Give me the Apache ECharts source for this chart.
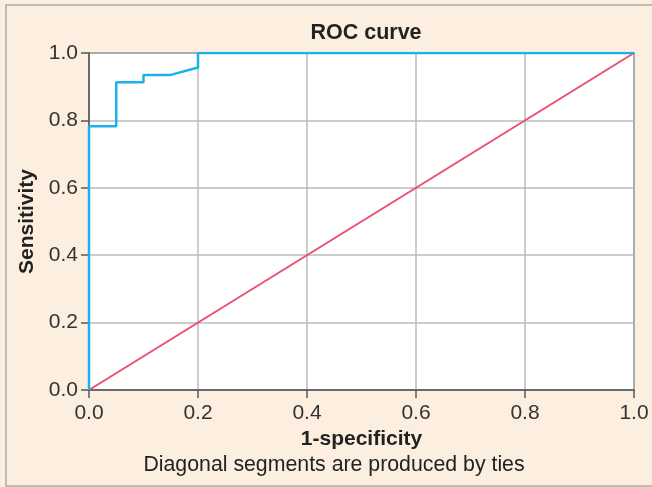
<!DOCTYPE html>
<html><head><meta charset="utf-8">
<script src="https://cdn.jsdelivr.net/npm/echarts@6/dist/echarts.min.js"></script>
<style>html,body{margin:0;padding:0;background:#fdefe0;}#c{width:652px;height:487px;}</style>
</head><body><div id="c"></div>
<script>
var rocX = [0, 0, 0.05, 0.05, 0.1, 0.1, 0.15, 0.2, 0.2, 1.0];
var rocY = [0, 0.783, 0.783, 0.913, 0.913, 0.935, 0.935, 0.957, 1.0, 1.0];
var refX = [0, 1];
var refY = [0, 1];
var ticks = [0, 0.2, 0.4, 0.6, 0.8, 1.0];
var FONT = 'Liberation Sans, Arial, sans-serif';
function pairs(xs, ys){ return xs.map(function(x,i){return [x, ys[i]];}); }
var chart = echarts.init(document.getElementById('c'));
function axis(name, isY){
  return {
    type:'value', min:0, max:1, interval:0.2,
    name:name, nameLocation:'middle', nameGap: isY ? 50 : 37,
    nameTextStyle:{fontFamily:FONT, fontSize:21, fontWeight:'bold', color:'#222'},
    axisLine:{show:true, lineStyle:{color:'#555', width:1.5}},
    axisTick:{show:true, length:8, lineStyle:{color:'#555', width:1.5}},
    axisLabel:{margin: isY ? 11 : 13, fontFamily:FONT, fontSize:21, color:'#333',
      formatter:function(v){return v.toFixed(1);}},
    splitLine:{show:true, lineStyle:{color:'#bbb', width:1.5}}
  };
}
chart.setOption({
  backgroundColor:'#fdefe0',
  animation:false,
  title:{text:'ROC curve', left:361, textAlign:'center', top:17,
    textStyle:{fontFamily:FONT, fontSize:21.5, fontWeight:'bold', color:'#222'}},
  graphic:[
    {type:'rect', shape:{x:6, y:5, width:700, height:481}, style:{fill:'none', stroke:'#aaa', lineWidth:1.5}, z:-1},
    {type:'text', x:334, y:455, style:{text:'Diagonal segments are produced by ties', fontFamily:FONT, fontSize:21.3, fill:'#222', align:'center', verticalAlign:'top'}}
  ],
  grid:{left:89, right:18, top:53, bottom:97, show:true, backgroundColor:'#fff', borderColor:'#555', borderWidth:1.5},
  xAxis: axis('1-specificity', false),
  yAxis: axis('Sensitivity', true),
  series:[
    {type:'line', data:pairs(refX, refY), showSymbol:false, lineStyle:{color:'#e9506f', width:2}, z:2},
    {type:'line', data:pairs(rocX, rocY), showSymbol:false, lineStyle:{color:'#1ab2ea', width:2.5}, z:3}
  ]
});
</script></body></html>
